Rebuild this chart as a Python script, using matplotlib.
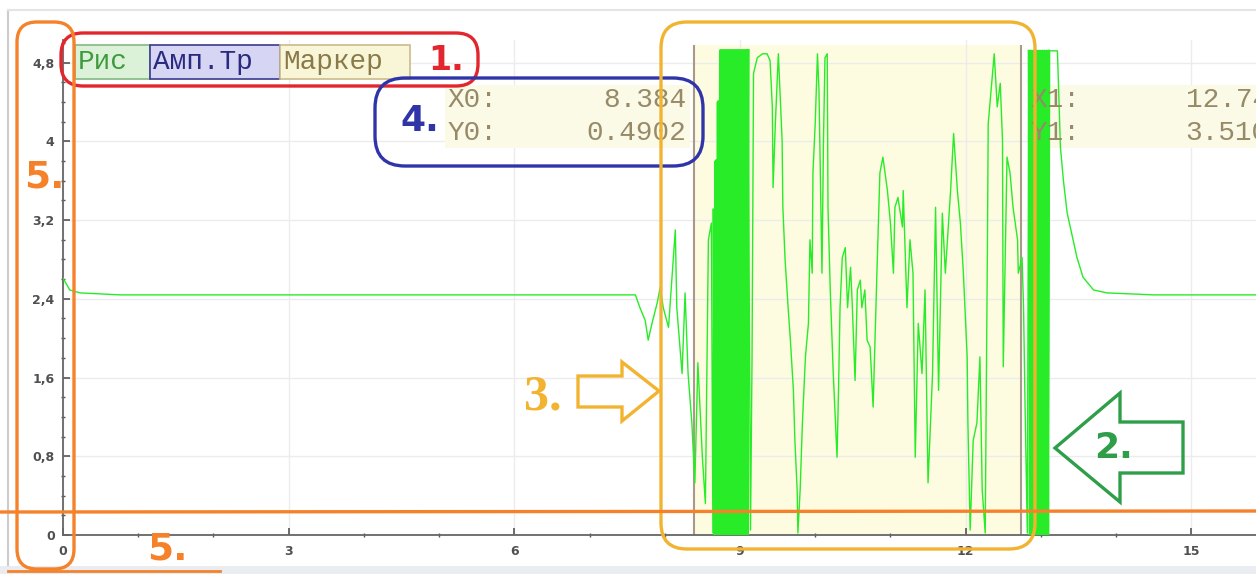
import matplotlib
matplotlib.use("Agg")
import matplotlib.pyplot as plt
from matplotlib.patches import FancyBboxPatch, Rectangle, Polygon
from matplotlib.ticker import MultipleLocator, FuncFormatter

W, H = 1256, 574

# Amplitude trace, split into segments.
t_rest = [0.00, 0.09, 0.23, 0.76, 2.0, 4.0, 6.0, 7.61]
a_rest = [2.61, 2.49, 2.46, 2.44, 2.44, 2.44, 2.44, 2.44]

t_onset = [7.67, 7.74, 7.78, 7.83, 7.90, 7.94, 7.98, 8.05, 8.14, 8.16, 8.23,
           8.27, 8.31, 8.36, 8.40, 8.44, 8.50, 8.54, 8.58, 8.62, 8.64]
a_onset = [2.31, 2.18, 1.98, 2.15, 2.36, 2.52, 2.31, 2.11, 3.10, 2.31, 1.64,
           2.46, 1.64, 1.14, 0.53, 1.75, 0.79, 0.32, 3.00, 3.17, 0.02]

t_burst1 = [8.655, 8.67, 8.685, 8.70, 8.715, 8.73, 8.745, 8.76, 8.775, 8.79,
            8.805, 8.82, 8.835, 8.85, 8.865, 8.88, 8.895, 8.91, 8.925, 8.94,
            8.955, 8.97, 8.985, 9.00, 9.015, 9.03, 9.045, 9.06, 9.075, 9.09,
            9.105]
a_burst1 = [3.3, 0.0, 3.8, 0.0, 4.4, 0.0, 4.92, 0.0, 4.92, 0.0,
            4.92, 0.0, 4.92, 0.0, 4.92, 0.0, 4.92, 0.0, 4.92, 0.0,
            4.92, 0.0, 4.92, 0.0, 4.92, 0.0, 4.92, 0.0, 4.92, 0.0,
            4.92]

t_mid = [9.14, 9.16, 9.18, 9.23, 9.30, 9.36, 9.40, 9.43, 9.44, 9.47, 9.51,
         9.56, 9.57, 9.60, 9.64, 9.67, 9.71, 9.73, 9.76, 9.77, 9.80, 9.83,
         9.87, 9.91, 9.93, 9.96, 9.97, 10.00, 10.03, 10.05, 10.09, 10.11,
         10.13, 10.16, 10.17, 10.20, 10.24, 10.27, 10.29, 10.31, 10.33, 10.36,
         10.40, 10.43, 10.47, 10.49, 10.53, 10.56, 10.60, 10.62, 10.66, 10.69,
         10.73, 10.77, 10.82, 10.86, 10.90, 10.96, 11.00, 11.04, 11.06, 11.10,
         11.16, 11.17, 11.22, 11.26, 11.30, 11.33, 11.37, 11.42, 11.46, 11.50,
         11.56, 11.60, 11.64, 11.69, 11.73, 11.80, 11.84, 11.89, 11.93, 11.97,
         12.02, 12.03, 12.06, 12.10, 12.15, 12.19, 12.22, 12.26, 12.29, 12.30,
         12.35, 12.38, 12.42, 12.46, 12.49, 12.50, 12.55, 12.59, 12.63, 12.69,
         12.70, 12.75, 12.77, 12.79, 12.82]
a_mid = [0.05, 1.78, 4.69, 4.85, 4.89, 4.89, 4.82, 4.35, 3.53, 4.18, 4.89,
         4.01, 3.33, 2.79, 2.31, 1.98, 1.47, 0.96, 0.46, 0.02, 0.46, 1.14,
         1.81, 2.15, 3.00, 2.66, 3.68, 4.18, 4.89, 4.52, 2.66, 4.01,
         4.85, 4.89, 3.33, 2.49, 1.64, 1.14, 0.79, 1.47, 2.31, 2.82,
         2.92, 2.31, 2.72, 2.39, 1.57, 2.49, 2.59, 2.31, 2.49, 1.98,
         1.91, 1.30, 2.66, 3.68, 3.84, 3.50, 3.17, 2.66, 3.33, 3.43,
         3.13, 3.50, 2.31, 3.00, 2.66, 0.79, 2.15, 1.64, 2.49, 0.53,
         1.64, 3.33, 1.47, 3.27, 2.66, 3.50, 4.08, 3.50, 3.17, 2.66,
         1.81, 1.14, 0.05, 0.96, 1.14, 1.81, 0.46, 0.02, 3.00, 4.18,
         4.62, 4.89, 4.35, 4.59, 4.01, 1.71, 3.84, 3.68, 3.33, 3.00,
         2.66, 2.82, 2.31, 1.30, 0.02]

t_burst2 = [12.84, 12.855, 12.87, 12.885, 12.90, 12.915, 12.93, 12.945,
            12.96, 12.975, 12.99, 13.005, 13.02, 13.035, 13.05, 13.065,
            13.08, 13.095, 13.11]
a_burst2 = [4.92, 0.0, 4.92, 0.0, 4.92, 0.0, 4.92, 0.0,
            4.92, 0.0, 4.92, 0.0, 4.92, 0.0, 4.92, 0.0,
            4.92, 0.0, 4.92]

t_tail = [13.22, 13.26, 13.30, 13.35, 13.42, 13.48, 13.56, 13.70, 13.88,
          14.5, 15.9]
a_tail = [4.92, 3.94, 3.60, 3.27, 3.03, 2.82, 2.62, 2.49, 2.46,
          2.44, 2.44]

time_s = t_rest + t_onset + t_burst1 + t_mid + t_burst2 + t_tail
amplitude = a_rest + a_onset + a_burst1 + a_mid + a_burst2 + a_tail

# Cursor markers
x0, y0 = 8.384, 0.4902
x1, y1 = 12.74, 3.510
x0_txt, y0_txt = "8.384", "0.4902"
x1_txt, y1_txt = "12.748", "3.5102"

buttons = ["Рис", "Амп.Тр", "Маркер"]

MONO = "Liberation Mono"
TRACE = "#27ec27"

fig = plt.figure(figsize=(W / 100, H / 100), dpi=100)
fig.patch.set_facecolor("white")

ax = fig.add_axes([63 / W, 39 / H, (W - 63) / W, 495 / H])
ax.set_xlim(0, 15.86)
ax.set_ylim(0, 5.03)

ax.axvspan(x0, x1, ymax=0.99, color="#fdfce1", zorder=0.5, lw=0)
ax.vlines([x0, x1], 0, 4.98, color="#a8998a", lw=1.5, zorder=2)

# cursor readouts (drawn over the trace, as on screen)
ax.add_patch(Rectangle((5.08, 3.93), 3.26, 0.64, color="#fbfae6",
                       lw=0, zorder=1))
ax.add_patch(Rectangle((12.86, 3.93), 3.2, 0.64, color="#fbfae6",
                       lw=0, zorder=1, clip_on=False))
tk = dict(family=MONO, fontsize=20, color="#978a68", va="center", zorder=5)
ax.text(5.11, 4.42, "X0:", ha="left", **tk)
ax.text(5.11, 4.09, "Y0:", ha="left", **tk)
ax.text(8.29, 4.42, x0_txt, ha="right", **tk)
ax.text(8.29, 4.09, y0_txt, ha="right", **tk)
ax.text(12.86, 4.42, "X1:", ha="left", **tk)
ax.text(12.86, 4.09, "Y1:", ha="left", **tk)
ax.text(16.25, 4.42, x1_txt, ha="right", **tk)
ax.text(16.25, 4.09, y1_txt, ha="right", **tk)

ax.plot(time_s, amplitude, color=TRACE, lw=1.0, zorder=4)
# saturated bursts render as solid blocks on screen
ax.plot(t_burst1, a_burst1, color=TRACE, lw=2.6, zorder=4)
ax.plot(t_burst2, a_burst2, color=TRACE, lw=1.7, zorder=4)

ax.grid(True, which="major", color="#ececec", lw=1)
ax.set_axisbelow(True)
ax.xaxis.set_major_locator(MultipleLocator(3))
ax.xaxis.set_minor_locator(MultipleLocator(1))
ax.yaxis.set_major_locator(MultipleLocator(0.8))
ax.yaxis.set_minor_locator(MultipleLocator(0.2))
ax.yaxis.set_major_formatter(FuncFormatter(lambda v, p: f"{v:g}".replace(".", ",")))
ax.tick_params(which="major", direction="in", length=5, width=1.2,
               color="#555555", labelcolor="#505050", labelsize=9)
ax.tick_params(axis="y", which="major", pad=6)
ax.tick_params(axis="x", which="major", pad=7)
ax.tick_params(which="minor", direction="inout", length=3, width=1,
               color="#555555")
for lab in ax.get_xticklabels() + ax.get_yticklabels():
    lab.set_fontweight("bold")
for s in ("top", "right"):
    ax.spines[s].set_visible(False)
for s in ("left", "bottom"):
    ax.spines[s].set_color("#666666")
    ax.spines[s].set_linewidth(1.3)

# overlay in pixel units for the hand-drawn annotations
ov = fig.add_axes([0, 0, 1, 1])
ov.set_xlim(0, W)
ov.set_ylim(H, 0)
ov.axis("off")

# window frame
ov.plot([8, 8], [10, 565], color="#cccccc", lw=1.5)
ov.plot([8, W], [10, 10], color="#e4e4e4", lw=1.5)
ov.add_patch(Rectangle((0, 566), W, 8, color="#e9edf2", lw=0))

# toolbar buttons
btn_style = [("#dcf2d8", "#84b884", "#3f9a3f"),
             ("#d6d6f4", "#3a3a8c", "#2a2a80"),
             ("#f9f6d8", "#cbbb8c", "#8a7a4a")]
bx = [75, 150, 280, 410]
for i, lab in enumerate(buttons):
    fc, ec, tc = btn_style[i]
    ov.add_patch(Rectangle((bx[i], 45), bx[i + 1] - bx[i], 34, fc=fc,
                           ec=ec, lw=1.2))
    ov.text(bx[i] + 3, 62, lab, family=MONO, fontsize=20, color=tc,
            va="center", ha="left")


def rbox(x, y, w, h, color, r, lw=2.4):
    ov.add_patch(FancyBboxPatch((x, y), w, h,
                                boxstyle=f"round,pad=0,rounding_size={r}",
                                fill=False, ec=color, lw=lw))


RED, BLUE, GOLD, ORANGE, GREEN = "#e3262e", "#2f35a8", "#f2b430", "#f5822a", "#2e9e48"

rbox(61, 33, 417, 53, RED, 22)
ov.text(428, 60, "1.", color=RED, fontsize=24, fontweight="bold",
        va="center", ha="left")

rbox(375, 78, 328, 88, BLUE, 30)
ov.text(400, 121, "4.", color=BLUE, fontsize=26, fontweight="bold",
        va="center", ha="left")

rbox(661, 22, 374, 527, GOLD, 26)
ov.add_patch(Polygon([(578, 376), (622, 376), (622, 362), (659, 391),
                      (622, 421), (622, 407), (578, 407)],
                     closed=True, fill=False, ec=GOLD, lw=2.4))
ov.text(524, 398, "3.", color=GOLD, fontsize=36, fontweight="bold",
        family="Liberation Serif", va="center", ha="left")

ov.add_patch(Polygon([(1055, 448), (1120, 393), (1120, 422), (1183, 422),
                      (1183, 473), (1120, 473), (1120, 502)],
                     closed=True, fill=False, ec=GREEN, lw=2.4))
ov.text(1094, 448, "2.", color=GREEN, fontsize=26, fontweight="bold",
        va="center", ha="left")

rbox(17, 22, 57, 547, ORANGE, 20)
ov.text(24, 178, "5.", color=ORANGE, fontsize=27, fontweight="bold",
        va="center", ha="left")
ov.plot([0, W], [512, 511], color=ORANGE, lw=2.4)
ov.plot([8, 220], [571, 571], color=ORANGE, lw=2.0)
ov.text(147, 550, "5.", color=ORANGE, fontsize=27, fontweight="bold",
        va="center", ha="left")

fig.savefig("out.png", dpi=100, facecolor="white")
